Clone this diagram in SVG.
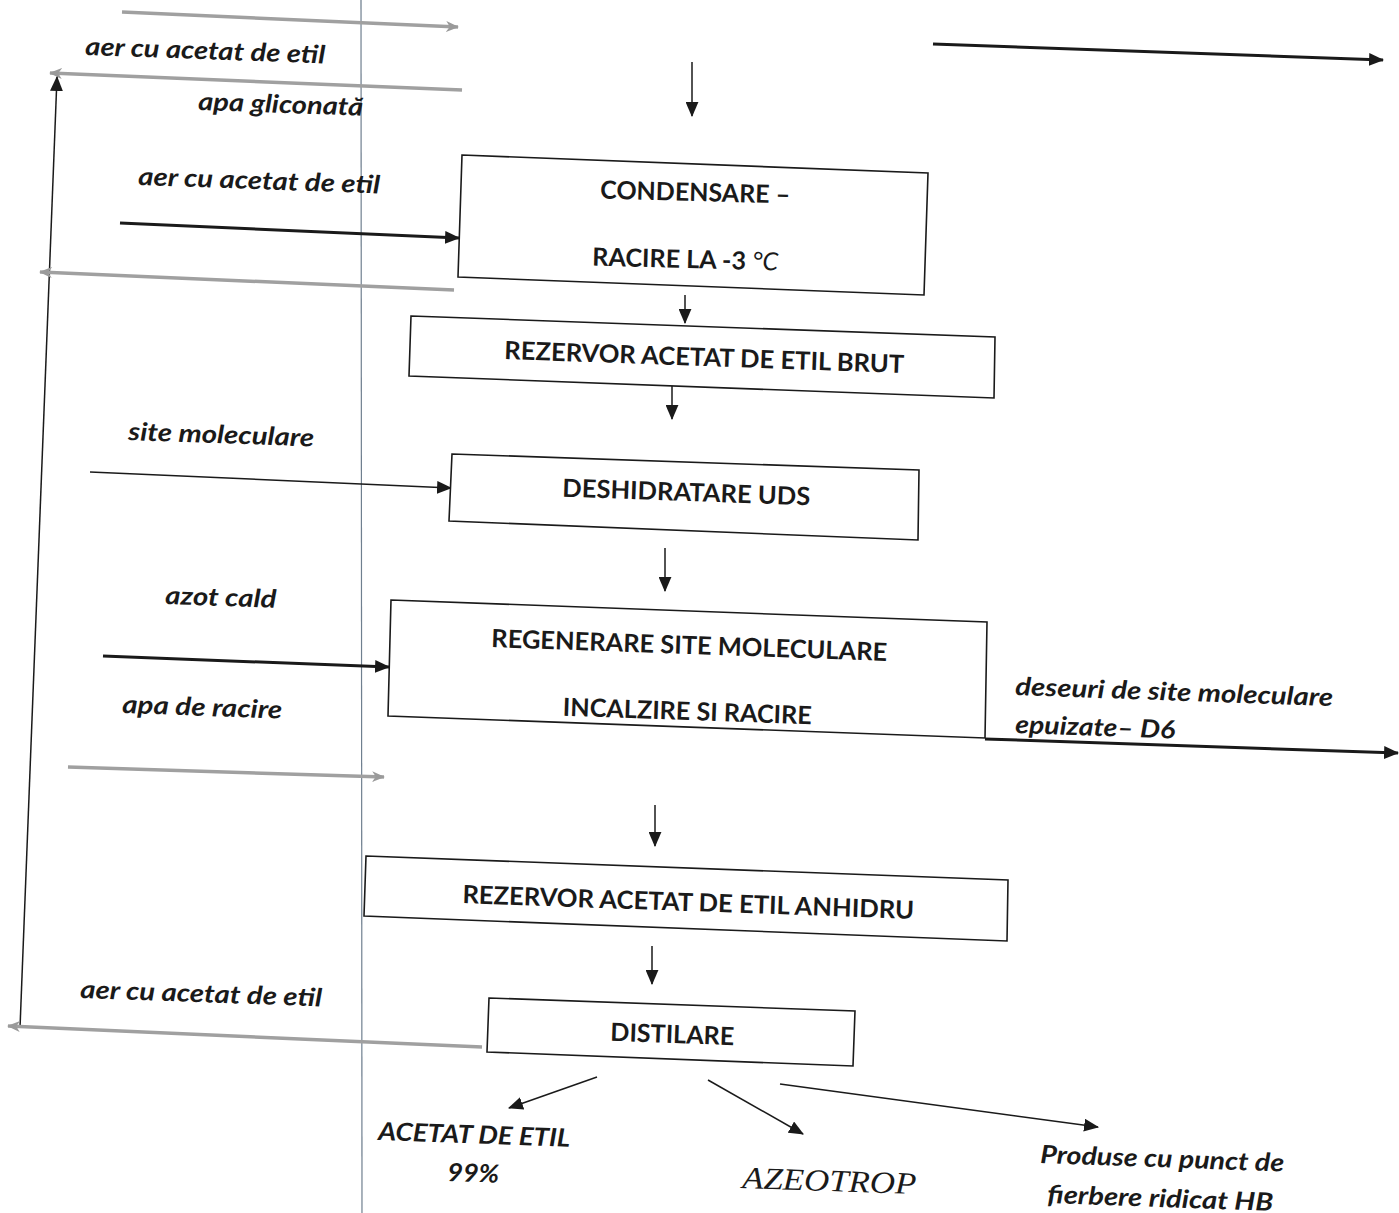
<svg xmlns="http://www.w3.org/2000/svg" width="1399" height="1213" viewBox="0 0 1399 1213">
<defs>
<marker id="ab" viewBox="0 0 14 12" refX="13" refY="6" markerWidth="15" markerHeight="13" orient="auto" markerUnits="userSpaceOnUse"><path d="M0,0 L14,6 L0,12 z" fill="#1a1a1a"/></marker>
<marker id="abt" viewBox="0 0 14 12" refX="13" refY="6" markerWidth="15" markerHeight="13" orient="auto" markerUnits="userSpaceOnUse"><path d="M0,0 L14,6 L0,12 z" fill="#1a1a1a"/></marker>
<marker id="ag" viewBox="0 0 14 12" refX="13" refY="6" markerWidth="13" markerHeight="11" orient="auto" markerUnits="userSpaceOnUse"><path d="M0,0 L14,6 L0,12 L4,6 z" fill="#9a9a9a"/></marker>
</defs>
<style>
.box{fill:#fff;stroke:#1a1a1a;stroke-width:1.6}
.bt{font-family:Lato,"Open Sans","Liberation Sans",sans-serif;font-weight:700;font-size:25px;fill:#1a1a1a;text-anchor:middle}
.lb{font-family:Lato,"Open Sans","Liberation Sans",sans-serif;font-weight:700;font-style:italic;font-size:25px;fill:#1a1a1a}
.k{stroke:#1a1a1a;stroke-width:3;fill:none}
.kt{stroke:#1a1a1a;stroke-width:1.5;fill:none}
.g{stroke:#a0a0a0;stroke-width:3.5;fill:none}
</style>
<rect width="1399" height="1213" fill="#fff"/>
<line x1="361" y1="0" x2="362" y2="1213" stroke="#6f7f8f" stroke-width="1.2"/>

<g id="connectors">
<line class="g" x1="122" y1="12" x2="458" y2="27" marker-end="url(#ag)"/>
<line class="g" x1="462" y1="90" x2="50" y2="73" marker-end="url(#ag)"/>
<line class="kt" x1="20" y1="1028" x2="57" y2="77" marker-end="url(#abt)"/>
<line class="k" x1="933" y1="44" x2="1383" y2="60" marker-end="url(#ab)"/>
<line class="kt" x1="692" y1="62" x2="692" y2="116" marker-end="url(#abt)"/>
<line class="k" x1="120" y1="223" x2="459" y2="238" marker-end="url(#ab)"/>
<line class="g" x1="454" y1="290" x2="40" y2="272" marker-end="url(#ag)"/>
<line class="kt" x1="685" y1="295" x2="685" y2="323" marker-end="url(#abt)"/>
<line class="kt" x1="672" y1="386" x2="672" y2="419" marker-end="url(#abt)"/>
<line class="kt" x1="90" y1="472" x2="451" y2="488" marker-end="url(#abt)"/>
<line class="kt" x1="665" y1="548" x2="665" y2="591" marker-end="url(#abt)"/>
<line class="k" x1="103" y1="656" x2="389" y2="667" marker-end="url(#ab)"/>
<line class="k" x1="985" y1="739" x2="1398" y2="753" marker-end="url(#ab)"/>
<line class="g" x1="68" y1="767" x2="384" y2="777" marker-end="url(#ag)"/>
<line class="kt" x1="655" y1="805" x2="655" y2="846" marker-end="url(#abt)"/>
<line class="kt" x1="652" y1="946" x2="652" y2="984" marker-end="url(#abt)"/>
<line class="g" x1="482" y1="1047" x2="8" y2="1026" marker-end="url(#ag)"/>
<line class="kt" x1="597" y1="1077" x2="509" y2="1108" marker-end="url(#abt)"/>
<line class="kt" x1="708" y1="1080" x2="803" y2="1134" marker-end="url(#abt)"/>
<line class="kt" x1="780" y1="1084" x2="1098" y2="1127" marker-end="url(#abt)"/>
</g>

<g id="n-condensare">
<polygon class="box" points="462,155 928,173 924,295 458,277"/>
<text class="bt" x="695" y="201" transform="rotate(1.5 695 201)" textLength="190" lengthAdjust="spacingAndGlyphs">CONDENSARE –</text>
<text class="bt" x="685" y="268" transform="rotate(1.5 685 268)" textLength="186" lengthAdjust="spacingAndGlyphs">RACIRE LA -3 <tspan font-style="italic" font-weight="400">°C</tspan></text>
</g>
<g id="n-rezervor-brut">
<polygon class="box" points="411,316 995,337 994,398 409,376"/>
<text class="bt" x="704" y="366" transform="rotate(2 704 366)" textLength="400" lengthAdjust="spacingAndGlyphs">REZERVOR ACETAT DE ETIL BRUT</text>
</g>
<g id="n-deshidratare">
<polygon class="box" points="452,454 919,470 918,540 449,521"/>
<text class="bt" x="686" y="501" transform="rotate(2 686 501)" textLength="248" lengthAdjust="spacingAndGlyphs">DESHIDRATARE UDS</text>
</g>
<g id="n-regenerare">
<polygon class="box" points="391,600 987,622 985,738 388,716"/>
<text class="bt" x="689" y="654" transform="rotate(2 689 654)" textLength="396" lengthAdjust="spacingAndGlyphs">REGENERARE SITE MOLECULARE</text>
<text class="bt" x="687" y="720" transform="rotate(2 687 720)" textLength="249" lengthAdjust="spacingAndGlyphs">INCALZIRE SI RACIRE</text>
</g>
<g id="n-rezervor-anhidru">
<polygon class="box" points="366,856 1008,880 1007,941 364,916"/>
<text class="bt" x="688" y="911" transform="rotate(2 688 911)" textLength="452" lengthAdjust="spacingAndGlyphs">REZERVOR ACETAT DE ETIL ANHIDRU</text>
</g>
<g id="n-distilare">
<polygon class="box" points="489,998 855,1011 853,1066 487,1052"/>
<text class="bt" x="672" y="1043" transform="rotate(2 672 1043)" textLength="124" lengthAdjust="spacingAndGlyphs">DISTILARE</text>
</g>

<g id="labels">
<text class="lb" x="85" y="55" transform="rotate(2 85 55)" textLength="240" lengthAdjust="spacingAndGlyphs">aer cu acetat de etil</text>
<text class="lb" x="198" y="110" transform="rotate(2 198 110)" textLength="165" lengthAdjust="spacingAndGlyphs">apa gliconată</text>
<text class="lb" x="138" y="185" transform="rotate(2 138 185)" textLength="242" lengthAdjust="spacingAndGlyphs">aer cu acetat de etil</text>
<text class="lb" x="128" y="440" transform="rotate(2 128 440)" textLength="186" lengthAdjust="spacingAndGlyphs">site moleculare</text>
<text class="lb" x="165" y="604" transform="rotate(2 165 604)" textLength="111" lengthAdjust="spacingAndGlyphs">azot cald</text>
<text class="lb" x="122" y="713" transform="rotate(2 122 713)" textLength="160" lengthAdjust="spacingAndGlyphs">apa de racire</text>
<text class="lb" x="1015" y="695" transform="rotate(2 1015 695)" textLength="318" lengthAdjust="spacingAndGlyphs">deseuri de site moleculare</text>
<text class="lb" x="1015" y="733" transform="rotate(2 1015 733)" textLength="160" lengthAdjust="spacingAndGlyphs">epuizate– D6</text>
<text class="lb" x="80" y="998" transform="rotate(2 80 998)" textLength="242" lengthAdjust="spacingAndGlyphs">aer cu acetat de etil</text>
<text class="lb" x="378" y="1140" transform="rotate(2 378 1140)" textLength="192" lengthAdjust="spacingAndGlyphs">ACETAT DE ETIL</text>
<text class="lb" x="447" y="1181" transform="rotate(2 447 1181)" textLength="52" lengthAdjust="spacingAndGlyphs">99%</text>
<text x="742" y="1188" transform="rotate(2 742 1188)" font-family="'Liberation Serif','Times New Roman',serif" font-style="italic" font-size="31" fill="#1a1a1a" textLength="174" lengthAdjust="spacingAndGlyphs">AZEOTROP</text>
<text class="lb" x="1040" y="1163" transform="rotate(2 1040 1163)" textLength="244" lengthAdjust="spacingAndGlyphs">Produse cu punct de</text>
<text class="lb" x="1047" y="1203" transform="rotate(2 1047 1203)" textLength="226" lengthAdjust="spacingAndGlyphs">fierbere ridicat HB</text>
</g>
</svg>
